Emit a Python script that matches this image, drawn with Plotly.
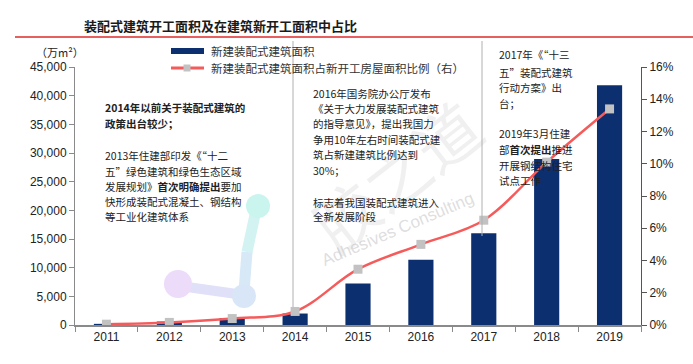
import plotly.graph_objects as go

# ---------------- data ----------------
years = ["2011", "2012", "2013", "2014", "2015", "2016", "2017", "2018", "2019"]
area_wan_m2 = [200, 600, 1200, 2000, 7260, 11400, 16000, 28969, 41800]
ratio_pct = [0.05, 0.16, 0.40, 0.84, 3.46, 5.0, 6.5, 10.1, 13.4]

title_text = "装配式建筑开工面积及在建筑新开工面积中占比"
unit_text = "（万m²）"
legend_bar = "新建装配式建筑面积"
legend_line = "新建装配式建筑面积占新开工房屋面积比例（右）"

box1 = ["<b>2014年以前关于装配式建筑的</b>", "<b>政策出台较少；</b>", None,
        "2013年住建部印发《“十二", "五”绿色建筑和绿色生态区域",
        "发展规划》<b>首次明确提出</b>要加", "快形成装配式混凝土、钢结构", "等工业化建筑体系"]
box2 = ["2016年国务院办公厅发布", "《关于大力发展装配式建筑", "的指导意见》，提出我国力",
        "争用10年左右时间装配式建", "筑占新建建筑比例达到", "30%；", None,
        "标志着我国装配式建筑进入", "全新发展阶段"]
box3 = ["2017年《“十三", "五”装配式建筑", "行动方案》出", "台；", None,
        "2019年3月住建", "部<b>首次提出</b>推进", "开展钢结构住宅", "试点工作"]

# ---------------- style ----------------
BAR_C = "#0c2f6f"
LINE_C = "#f55b5b"
MARK_C = "#c2c2c2"
AXIS_C = "#8a8a8a"
TXT_C = "#222222"
CJK = "Noto Sans CJK SC, Arial"
NUM = "Arial, Liberation Sans, sans-serif"

W, H = 693, 364
L, R, T, B = 75, 641, 67, 325


def px(x):
    return (x - L) / (R - L)


def py(y):
    return (B - y) / (B - T)


fig = go.Figure()
fig.add_trace(go.Bar(x=years, y=area_wan_m2, marker=dict(color=BAR_C, line=dict(width=0)),
                     yaxis="y", name=legend_bar))
fig.add_trace(go.Scatter(x=years, y=ratio_pct, yaxis="y2", mode="lines+markers",
                         line=dict(color=LINE_C, width=2.5, shape="spline", smoothing=1.0),
                         marker=dict(symbol="square", size=9, color=MARK_C, line=dict(width=0)),
                         name=legend_line))

shapes = []
# title underline
shapes.append(dict(type="line", xref="paper", yref="paper", x0=px(15), x1=px(693),
                   y0=py(37), y1=py(37), line=dict(color="#e02a2a", width=1.5)))
# vertical divider lines
shapes.append(dict(type="line", xref="paper", yref="paper", x0=px(293), x1=px(293),
                   y0=py(41), y1=py(311), line=dict(color="#b0b0b0", width=1), layer="below"))
shapes.append(dict(type="line", xref="paper", yref="paper", x0=px(482), x1=px(482),
                   y0=py(41), y1=py(236), line=dict(color="#b0b0b0", width=1), layer="above"))
# custom legend
shapes.append(dict(type="rect", xref="paper", yref="paper", x0=px(171), x1=px(204),
                   y0=py(54), y1=py(48), fillcolor=BAR_C, line=dict(width=0)))
shapes.append(dict(type="line", xref="paper", yref="paper", x0=px(171), x1=px(204),
                   y0=py(68), y1=py(68), line=dict(color=LINE_C, width=3)))
shapes.append(dict(type="rect", xref="paper", yref="paper", x0=px(183.5), x1=px(190.5),
                   y0=py(71.5), y1=py(64.5), fillcolor=MARK_C, line=dict(width=0)))


# logo blob (watermark decoration)
def circ(cx, cy, r, col):
    return dict(type="circle", xref="paper", yref="paper", x0=px(cx - r), x1=px(cx + r),
                y0=py(cy + r), y1=py(cy - r), fillcolor=col, line=dict(width=0), layer="below")


def seg(x0, y0, x1, y1, w, col):
    return dict(type="line", xref="paper", yref="paper", x0=px(x0), x1=px(x1), y0=py(y0),
                y1=py(y1), line=dict(color=col, width=w), layer="below")


shapes.append(seg(256, 210, 247, 252, 11, "#d2f3f1"))
shapes.append(seg(247, 252, 244, 292, 11, "#d7e9f6"))
shapes.append(seg(180, 286, 244, 295, 10, "#e0e0f8"))
shapes.append(circ(258, 206, 12, "#c9f5ee"))
shapes.append(circ(178, 284, 14, "#ecdcf9"))
shapes.append(circ(244, 296, 12, "#d9e6f8"))

annotations = []
annotations.append(dict(text="<b>" + title_text + "</b>", xref="paper", yref="paper",
                        x=px(82), y=py(26), xanchor="left", yanchor="middle", showarrow=False,
                        font=dict(family=CJK, size=13, color="#1a1a1a")))
annotations.append(dict(text=unit_text, xref="paper", yref="paper", x=px(34), y=py(52),
                        xanchor="left", yanchor="middle", showarrow=False,
                        font=dict(family=CJK, size=11, color=TXT_C)))
annotations.append(dict(text=legend_bar, xref="paper", yref="paper", x=px(209), y=py(51),
                        xanchor="left", yanchor="middle", showarrow=False,
                        font=dict(family=CJK, size=11.5, color="#333333")))
annotations.append(dict(text=legend_line, xref="paper", yref="paper", x=px(209), y=py(68),
                        xanchor="left", yanchor="middle", showarrow=False,
                        font=dict(family=CJK, size=11.5, color="#333333")))

# watermark text
annotations.append(dict(text="胶之道", xref="paper", yref="paper", x=px(395), y=py(174),
                        xanchor="center", yanchor="middle", showarrow=False, textangle=-38,
                        font=dict(family=CJK, size=64, color="rgba(170,170,170,0.18)")))
annotations.append(dict(text="Adhesives Consulting", xref="paper", yref="paper", x=px(397),
                        y=py(229), xanchor="center", yanchor="middle", showarrow=False,
                        textangle=-23, font=dict(family=NUM, size=17, color="rgba(170,170,170,0.4)")))


def add_box(lines, x0, ys):
    i = 0
    for t in lines:
        if t is None:
            continue
        annotations.append(dict(text=t, xref="paper", yref="paper", x=px(x0), y=py(ys[i]),
                                xanchor="left", yanchor="middle", showarrow=False,
                                font=dict(family=CJK, size=10.5, color=TXT_C)))
        i += 1


add_box(box1, 103, [107, 123, 155, 171, 186, 201, 216])
add_box(box2, 311, [94, 109, 124, 139, 154, 170, 202, 217])
add_box(box3, 497, [55, 72, 87, 103, 133, 149, 165, 180])

fig.update_layout(
    width=W, height=H, autosize=False,
    margin=dict(l=L, r=W - R, t=T, b=H - B, pad=0),
    paper_bgcolor="white", plot_bgcolor="white",
    showlegend=False, bargap=0.6, hovermode=False,
    shapes=shapes, annotations=annotations,
    xaxis=dict(type="category", showline=True, linecolor=AXIS_C, linewidth=1.5,
               ticks="outside", tickson="boundaries", ticklen=5, tickcolor=AXIS_C,
               tickfont=dict(family=NUM, size=12, color=TXT_C), showgrid=False,
               zeroline=False, range=[-0.5, 8.5]),
    yaxis=dict(range=[0, 45000], dtick=5000, tickformat=",", showline=True,
               linecolor=AXIS_C, linewidth=1, ticks="outside", ticklen=5, tickcolor=AXIS_C,
               tickfont=dict(family=NUM, size=12, color=TXT_C), showgrid=False,
               zeroline=False),
    yaxis2=dict(range=[0, 16], dtick=2, ticksuffix="%", overlaying="y", side="right",
                showline=True, linecolor="#555555", linewidth=1, ticks="outside", ticklen=5,
                tickcolor="#555555", tickfont=dict(family=NUM, size=12, color=TXT_C),
                showgrid=False, zeroline=False),
)

fig.write_html("out.html", config={"displayModeBar": False, "staticPlot": True},
               post_script="document.body.style.margin='0';document.body.style.overflow='hidden';")
